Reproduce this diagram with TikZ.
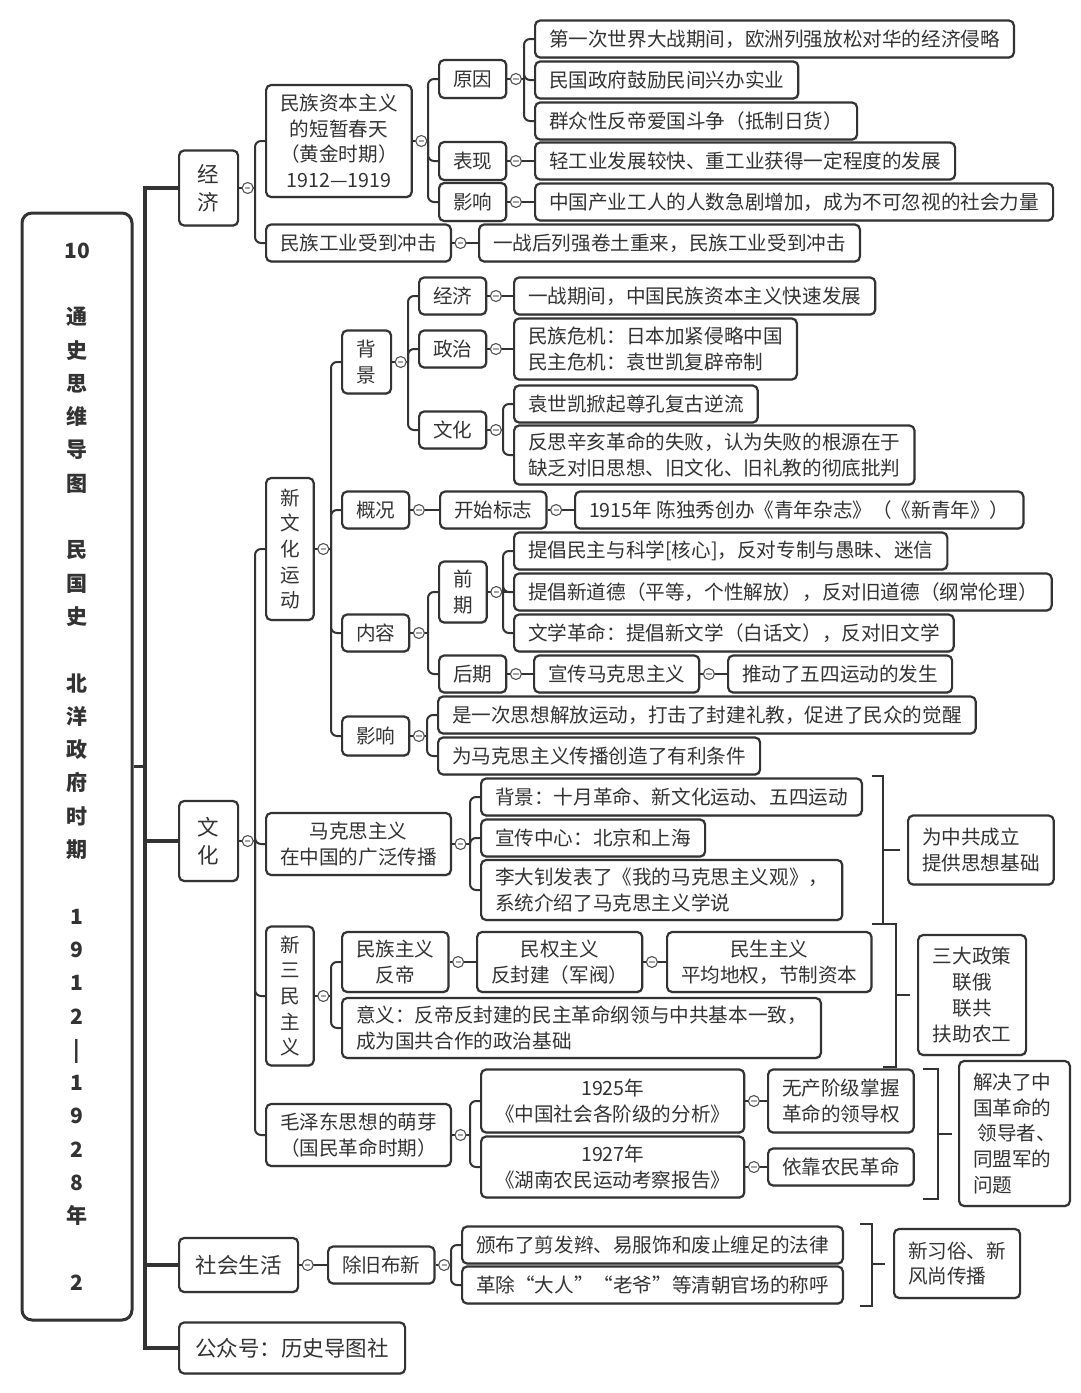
\documentclass[tikz,border=0pt]{standalone}
\usepackage{fontspec}
\setmainfont{Noto Sans CJK SC}
\usetikzlibrary{positioning,calc,shadows}
\definecolor{ink}{HTML}{333333}

\begin{document}
\begin{tikzpicture}[x=1pt, y=-1pt,
    box/.style={draw=ink, line width=2.2pt, rounded corners=5pt, fill=white,
        text=ink, anchor=west, inner xsep=14pt, inner ysep=3pt,
        minimum height=37pt, font=\fontsize{19.6}{25.7}\selectfont,
        drop shadow={shadow xshift=0.6pt, shadow yshift=-1.4pt, opacity=0.35}},
    mid/.style={box, align=center},
    lft/.style={box, align=left},
    tall/.style={box, align=center, minimum width=47pt},
    lvl/.style={box, align=center, font=\fontsize{21.5}{28}\selectfont},
    link/.style={draw=ink, line width=2pt},
    trunk/.style={draw=ink, line width=3.5pt},
    knob/.style={circle, draw=ink!85, fill=white, line width=1.1pt,
        inner sep=0pt, minimum size=11pt,
        path picture={\draw[gray!70, line width=1.2pt]
            ([xshift=-2.6pt]path picture bounding box.center) --
            ([xshift=2.6pt]path picture bounding box.center);}}]

    \useasboundingbox (0,0) rectangle (1080,1393);

    % title
    \node[draw=ink, line width=3pt, rounded corners=10pt, fill=white, text=ink,
        minimum width=110pt, minimum height=1107pt, align=center,
        font=\bfseries\fontsize{21}{33.3}\selectfont,
        drop shadow={shadow xshift=0.6pt, shadow yshift=-1.4pt, opacity=0.35}]
        (root) at (77,766.5)
        {10\\[33.3pt]通\\史\\思\\维\\导\\图\\[33.3pt]民\\国\\史\\[33.3pt]北\\洋\\政\\府\\时\\期\\[33.3pt]1\\9\\1\\2\\|\\1\\9\\2\\8\\年\\[33.3pt]2};

    % first level
    \node[lvl, minimum width=59pt, minimum height=75pt] (jj) at (178,188) {经\\济};
    \node[lvl, minimum width=59pt, minimum height=80pt] (wh) at (178,841) {文\\化};
    \node[lvl, minimum width=119pt, minimum height=54pt] (shsh) at (178,1265) {社会生活};
    \node[lvl, minimum width=226pt, minimum height=51pt] (gzh) at (178,1348) {公众号：历史导图社};

    % economy
    \node[mid, minimum height=112pt] (jjA) at (265,141) {民族资本主义\\的短暂春天\\（黄金时期）\\1912—1919};
    \node[box] (jjB) at (265,243) {民族工业受到冲击};
    \node[box, minimum height=38pt] (yy) at (438,79) {原因};
    \node[box, minimum height=38pt] (bx) at (438,161) {表现};
    \node[box, minimum height=38pt] (yx) at (438,202) {影响};
    \node[box] (yy1) at (534,39) {第一次世界大战期间，欧洲列强放松对华的经济侵略};
    \node[box] (yy2) at (534,80) {民国政府鼓励民间兴办实业};
    \node[box] (yy3) at (534,121) {群众性反帝爱国斗争（抵制日货）};
    \node[box] (bx1) at (534,161) {轻工业发展较快、重工业获得一定程度的发展};
    \node[box] (yx1) at (534,202) {中国产业工人的人数急剧增加，成为不可忽视的社会力量};
    \node[box] (jjB1) at (478,243) {一战后列强卷土重来，民族工业受到冲击};

    % new culture movement
    \node[tall, minimum height=142pt] (xwh) at (265,549) {新\\文\\化\\运\\动};
    \node[tall, minimum width=49pt, minimum height=63pt] (bj) at (341,362) {背\\景};
    \node[box] (gk) at (341,510) {概况};
    \node[box] (nr) at (341,633) {内容};
    \node[box, minimum height=39pt] (xyx) at (341,736) {影响};
    \node[box] (bjjj) at (418,296) {经济};
    \node[box] (bjzz) at (418,349) {政治};
    \node[box] (bjwh) at (418,430) {文化};
    \node[box] (bjjj1) at (513,296) {一战期间，中国民族资本主义快速发展};
    \node[lft, minimum height=61pt] (bjzz1) at (513,349) {民族危机：日本加紧侵略中国\\民主危机：袁世凯复辟帝制};
    \node[box] (bjwh1) at (513,404) {袁世凯掀起尊孔复古逆流};
    \node[lft, minimum height=59pt] (bjwh2) at (513,455) {反思辛亥革命的失败，认为失败的根源在于\\缺乏对旧思想、旧文化、旧礼教的彻底批判};
    \node[box] (gkbz) at (439,510) {开始标志};
    \node[box] (gkbz1) at (574,510) {1915年 陈独秀创办《青年杂志》（《新青年》）};
    \node[tall, minimum height=61pt] (qq) at (438,592) {前\\期};
    \node[box] (hq) at (438,674) {后期};
    \node[box] (qq1) at (513,551) {提倡民主与科学[核心]，反对专制与愚昧、迷信};
    \node[box] (qq2) at (513,592) {提倡新道德（平等，个性解放），反对旧道德（纲常伦理）};
    \node[box] (qq3) at (513,633) {文学革命：提倡新文学（白话文），反对旧文学};
    \node[box] (hq1) at (533,674) {宣传马克思主义};
    \node[box] (hq2) at (727,674) {推动了五四运动的发生};
    \node[box] (xyx1) at (437,715) {是一次思想解放运动，打击了封建礼教，促进了民众的觉醒};
    \node[box] (xyx2) at (437,756) {为马克思主义传播创造了有利条件};

    % marxism
    \node[mid, minimum height=62pt] (mks) at (265,844) {马克思主义\\在中国的广泛传播};
    \node[box] (mks1) at (480,797) {背景：十月革命、新文化运动、五四运动};
    \node[box] (mks2) at (480,838) {宣传中心：北京和上海};
    \node[lft, minimum height=60pt] (mks3) at (480,890) {李大钊发表了《我的马克思主义观》，\\系统介绍了马克思主义学说};
    \node[lft, minimum height=69pt] (sum1) at (907,850) {为中共成立\\提供思想基础};

    % three principles
    \node[tall, minimum height=139pt] (ssm) at (265,996) {新\\三\\民\\主\\义};
    \node[mid, minimum height=60pt] (mzzy) at (341,962) {民族主义\\反帝};
    \node[mid, minimum height=60pt] (mqzy) at (476,962) {民权主义\\反封建（军阀）};
    \node[mid, minimum height=60pt] (msz) at (666,962) {民生主义\\平均地权，节制资本};
    \node[lft, minimum height=60pt] (ssmyy) at (341,1028) {意义：反帝反封建的民主革命纲领与中共基本一致，\\成为国共合作的政治基础};
    \node[mid, minimum width=108pt, minimum height=120pt] (sum2) at (917,995) {三大政策\\联俄\\联共\\扶助农工};

    % mao zedong thought
    \node[mid, minimum height=62pt] (mzd) at (265,1135) {毛泽东思想的萌芽\\（国民革命时期）};
    \node[mid, minimum height=63pt] (mzd1) at (480,1101) {1925年\\《中国社会各阶级的分析》};
    \node[mid, minimum height=61pt] (mzd2) at (480,1167) {1927年\\《湖南农民运动考察报告》};
    \node[lft, minimum height=63pt] (mzd1a) at (767,1101) {无产阶级掌握\\革命的领导权};
    \node[box] (mzd2a) at (767,1167) {依靠农民革命};
    \node[lft, minimum width=106pt, minimum height=145pt] (sum3) at (958,1133.5) {解决了中\\国革命的\\\ 领导者、\\同盟军的\\问题};

    % social life
    \node[box] (cjbx) at (327,1265) {除旧布新};
    \node[box] (cjbx1) at (461,1245) {颁布了剪发辫、易服饰和废止缠足的法律};
    \node[box] (cjbx2) at (461,1285) {革除“大人”“老爷”等清朝官场的称呼};
    \node[lft, minimum height=69pt] (sum4) at (893,1263.5) {新习俗、新\\风尚传播};

    % trunk
    \coordinate (spine) at (145,766.5);
    \draw[trunk] (root.east) -- (spine);
    \foreach \c in {jj,wh,shsh,gzh}
        \draw[trunk] (spine) |- (\c.west);

    % forks
    \foreach \p/\c in {jj/jjA, jj/jjB, jjA/yy, jjA/bx, jjA/yx,
        yy/yy1, yy/yy2, yy/yy3,
        wh/xwh, wh/mks, wh/ssm, wh/mzd,
        xwh/bj, xwh/gk, xwh/nr, xwh/xyx,
        bj/bjjj, bj/bjzz, bj/bjwh, bjwh/bjwh1, bjwh/bjwh2,
        nr/qq, nr/hq, qq/qq1, qq/qq2, qq/qq3,
        xyx/xyx1, xyx/xyx2,
        mks/mks1, mks/mks2, mks/mks3,
        ssm/mzzy, ssm/ssmyy,
        mzd/mzd1, mzd/mzd2,
        cjbx/cjbx1, cjbx/cjbx2} {
        \draw[link] (\p.east) -- ($(\c.west |- \p.east)+(-10,0)$);
        \draw[link, rounded corners=6pt] ($(\c.west |- \p.east)+(-10,0)$) |- (\c.west);
    }

    % straight chains
    \foreach \p/\c in {bx/bx1, yx/yx1, jjB/jjB1, bjjj/bjjj1, bjzz/bjzz1,
        gk/gkbz, gkbz/gkbz1, qq/qq2, hq/hq1, hq1/hq2,
        mzzy/mqzy, mqzy/msz, mzd1/mzd1a, mzd2/mzd2a, shsh/cjbx}
        \draw[link] (\p.east) -- (\c.west);

    % collapse knobs
    \foreach \p in {jj, jjA, yy, bx, yx, jjB, wh, xwh, bj, bjjj, bjzz, bjwh,
        gk, gkbz, nr, qq, hq, hq1, xyx, mks, ssm, mzzy, mqzy, mzd, mzd1, mzd2,
        shsh, cjbx}
        \node[knob] at ($(\p.east)+(8.5,0)$) {};

    % summary brackets
    \draw[link] (872,776) -- (883,776) -- (883,924);
    \draw[link] (872,924) -- (896,924) -- (896,1067) -- (883,1067);
    \draw[link] (923,1069) -- (938,1069) -- (938,1199) -- (923,1199);
    \draw[link] (860,1224) -- (872,1224) -- (872,1306) -- (860,1306);
    \draw[link] (883,0 |- sum1.west) -- ([xshift=-7pt]sum1.west);
    \draw[link] (896,0 |- sum2.west) -- ([xshift=-7pt]sum2.west);
    \draw[link] (938,0 |- sum3.west) -- ([xshift=-6pt]sum3.west);
    \draw[link] (872,0 |- sum4.west) -- ([xshift=-8pt]sum4.west);
\end{tikzpicture}
\end{document}
